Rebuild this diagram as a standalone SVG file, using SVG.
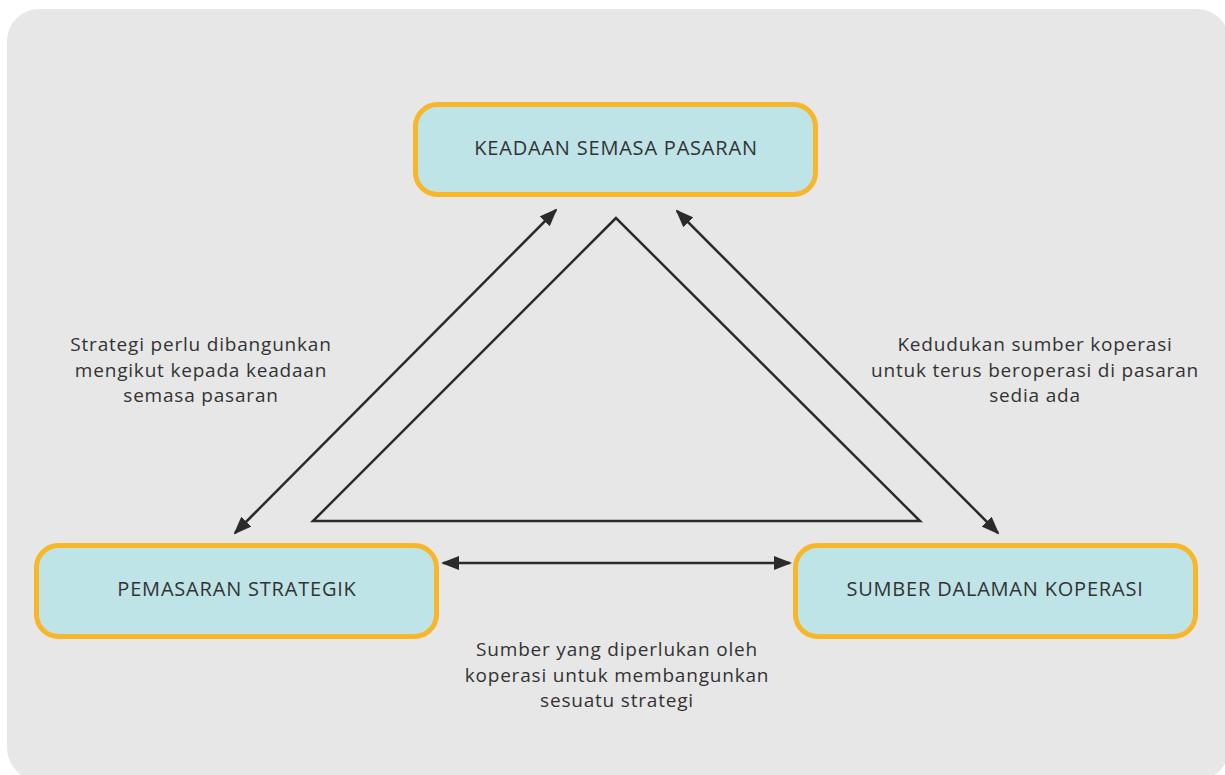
<svg xmlns="http://www.w3.org/2000/svg" width="1225" height="775" viewBox="0 0 1225 775">
  <defs>
    <marker id="ah" viewBox="0 0 18 14" refX="16" refY="7" markerWidth="18" markerHeight="14" markerUnits="userSpaceOnUse" orient="auto-start-reverse">
      <path d="M0,0 L18,7 L0,14 Z" fill="#2b2b2b"/>
    </marker>
    <style>
      .node rect { fill: #bee4e8; stroke: #f8b62b; stroke-width: 5; }
      .node text { font-family: "Open Sans", "Liberation Sans", sans-serif; font-size: 20px; letter-spacing: 0.8px; fill: #333333; text-anchor: middle; }
      .lbl { font-family: "Open Sans", "Liberation Sans", sans-serif; font-size: 19px; letter-spacing: 0.8px; fill: #333333; text-anchor: middle; }
      .conn line { stroke: #2b2b2b; stroke-width: 2.5; }
      .tri { fill: none; stroke: #2b2b2b; stroke-width: 2.5; }
    </style>
  </defs>
  <rect x="0" y="0" width="1225" height="775" fill="#ffffff"/>
  <rect x="7" y="9" width="1222" height="771" rx="32" fill="#e7e7e7"/>

  <polygon class="tri" points="616,218 313,521 920,521"/>

  <g id="connectors" class="conn">
    <line x1="235" y1="533" x2="556" y2="210" marker-start="url(#ah)" marker-end="url(#ah)"/>
    <line x1="677" y1="211" x2="998" y2="533" marker-start="url(#ah)" marker-end="url(#ah)"/>
    <line x1="443" y1="563" x2="790" y2="563" marker-start="url(#ah)" marker-end="url(#ah)"/>
  </g>

  <g id="node-keadaan" class="node">
    <rect x="415.5" y="104.5" width="400" height="90" rx="22"/>
    <text x="616" y="155">KEADAAN SEMASA PASARAN</text>
  </g>
  <g id="node-pemasaran" class="node">
    <rect x="36.5" y="545.5" width="400" height="91" rx="22"/>
    <text x="237" y="596">PEMASARAN STRATEGIK</text>
  </g>
  <g id="node-sumber" class="node">
    <rect x="795.5" y="545.5" width="400" height="91" rx="22"/>
    <text x="995" y="596">SUMBER DALAMAN KOPERASI</text>
  </g>

  <g id="label-left">
    <text class="lbl" x="201" y="351">Strategi perlu dibangunkan</text>
    <text class="lbl" x="201" y="376.5">mengikut kepada keadaan</text>
    <text class="lbl" x="201" y="402">semasa pasaran</text>
  </g>
  <g id="label-right">
    <text class="lbl" x="1035" y="351">Kedudukan sumber koperasi</text>
    <text class="lbl" x="1035" y="376.5">untuk terus beroperasi di pasaran</text>
    <text class="lbl" x="1035" y="402">sedia ada</text>
  </g>
  <g id="label-bottom">
    <text class="lbl" x="617" y="656">Sumber yang diperlukan oleh</text>
    <text class="lbl" x="617" y="681.5">koperasi untuk membangunkan</text>
    <text class="lbl" x="617" y="707">sesuatu strategi</text>
  </g>
</svg>
